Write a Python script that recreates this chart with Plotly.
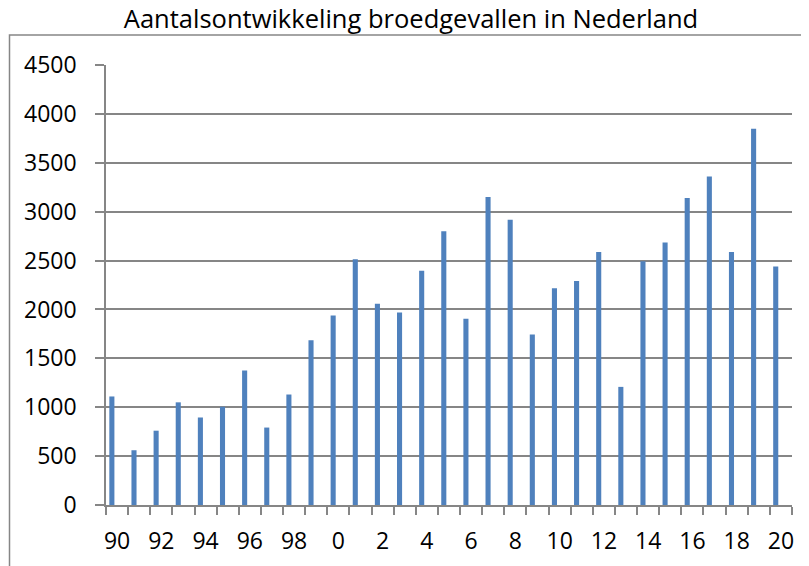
import plotly.graph_objects as go

years = list(range(1990, 2021))
values = [1110, 560, 760, 1050, 895, 1005, 1375, 792, 1130, 1685,
          1939, 2513, 2057, 1970, 2395, 2799, 1906, 3150, 2918, 1743,
          2218, 2292, 2588, 1208, 2493, 2684, 3139, 3360, 2588, 3847, 2439]
label_years = list(range(1990, 2021, 2))
label_text = ["90", "92", "94", "96", "98", "0", "2", "4", "6", "8",
              "10", "12", "14", "16", "18", "20"]
y_ticks = [0, 500, 1000, 1500, 2000, 2500, 3000, 3500, 4000, 4500]
title_text = "Aantalsontwikkeling broedgevallen in Nederland"

GRAY = "#868686"
FONT = "Open Sans"

boundaries = [y - 0.5 for y in years] + [years[-1] + 0.5]

fig = go.Figure()
fig.add_trace(go.Bar(
    x=years, y=values,
    width=0.23, offset=-0.35,
    marker=dict(color="#4F81BD", line=dict(width=0)),
    hoverinfo="x+y",
))

# the page body has an 8px margin, so the figure is drawn 8px in and down
PAD = 8
W, H = 809 - PAD, 566 - PAD
L, R, T, B = 106 - PAD, 809 - 792, 65 - PAD, 566 - 505
pw, ph = W - L - R, H - T - B

fig.update_layout(
    width=W, height=H,
    margin=dict(l=L, r=R, t=T, b=B),
    paper_bgcolor="white", plot_bgcolor="white",
    showlegend=False,
    font=dict(family=FONT, color="black"),
    title=dict(text=title_text, x=(411 - PAD) / W, xanchor="center",
               xref="container", yref="container",
               y=1 - (19 - PAD) / H, yanchor="middle",
               font=dict(family=FONT, size=25.5, color="black")),
    xaxis=dict(
        range=[boundaries[0], boundaries[-1]],
        tickmode="array", tickvals=label_years, ticktext=label_text,
        ticks="outside", ticklen=8, tickcolor="rgba(0,0,0,0)",
        showgrid=False, zeroline=False,
        showline=True, linecolor=GRAY, linewidth=1.5,
        tickfont=dict(family=FONT, size=23, color="black"),
        ticklabelstandoff=7,
        automargin=False,
        minor=dict(tickmode="array", tickvals=boundaries, ticks="outside",
                   ticklen=8, tickcolor=GRAY, tickwidth=1.5, showgrid=False),
        fixedrange=True,
    ),
    yaxis=dict(
        range=[0, 4500],
        tickmode="array", tickvals=y_ticks,
        ticks="outside", ticklen=9, tickcolor=GRAY, tickwidth=1.5,
        showgrid=True, gridcolor=GRAY, gridwidth=1.5,
        zeroline=False,
        showline=True, linecolor=GRAY, linewidth=1.5,
        tickfont=dict(family=FONT, size=23, color="black"),
        ticklabelstandoff=14,
        automargin=False,
        fixedrange=True,
    ),
    shapes=[dict(type="rect", xref="paper", yref="paper",
                 x0=(9.5 - 106) / pw, x1=1.3,
                 y0=-0.5, y1=(505 - 35) / ph,
                 line=dict(color=GRAY, width=1.5), fillcolor="rgba(0,0,0,0)",
                 layer="below")],
)

fig.write_html("out.html")
